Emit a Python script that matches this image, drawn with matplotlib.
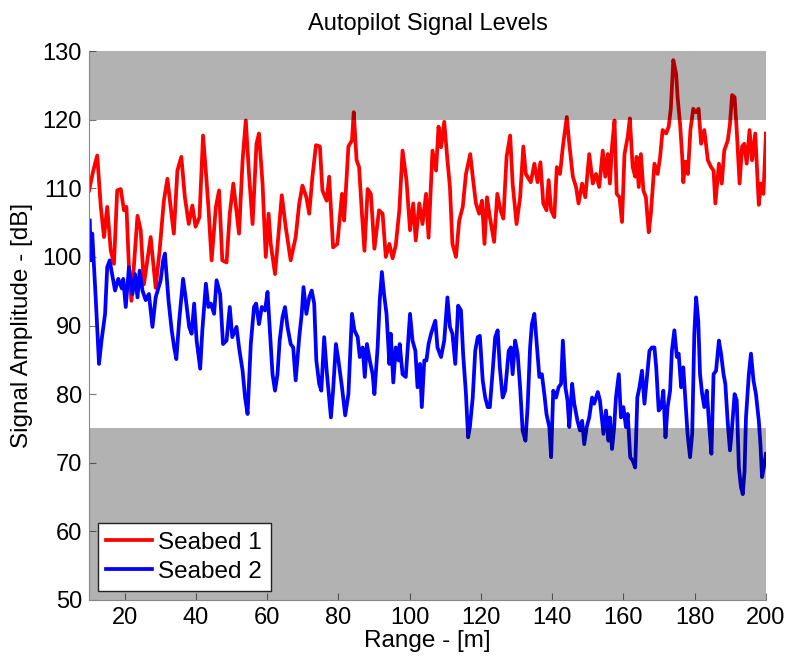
import numpy as np
import matplotlib.pyplot as plt

plt.rcParams['font.family'] = ['Liberation Sans', 'DejaVu Sans']

# Seabed 1 (red) - range [m] and amplitude [dB]
range_1 = [10.0, 10.5, 11.2, 12.3, 13.3, 14.2, 15.1, 16.1, 17.0, 17.9, 18.9, 19.8,
           20.5, 21.2, 21.9, 23.6, 24.5, 25.4, 27.3, 28.7, 29.8, 31.0, 32.0, 32.9,
           33.8, 34.8, 35.9, 36.9, 38.0, 39.0, 39.9, 41.0, 42.0, 42.9, 43.5, 44.4,
           45.6, 46.5, 47.4, 48.6, 49.5, 50.5, 52.1, 53.1, 54.0, 54.9, 55.9, 57.0,
           57.7, 58.7, 59.6, 60.4, 61.0, 62.2, 63.2, 64.1, 65.2, 66.6, 68.0, 69.0,
           69.9, 71.0, 71.8, 72.7, 73.7, 74.8, 75.5, 76.7, 77.4, 78.5, 79.7, 81.0,
           81.6, 82.8, 83.8, 84.3, 85.1, 85.8, 86.6, 87.3, 88.2, 89.1, 90.1, 91.4,
           92.4, 93.3, 94.3, 95.2, 96.1, 97.1, 98.0, 99.1, 100.1, 101.0, 101.7, 102.7,
           103.6, 104.6, 105.3, 106.4, 107.4, 108.1, 108.8, 109.7, 110.6, 111.3, 112.0, 113.0,
           113.9, 114.9, 115.8, 117.0, 117.7, 118.6, 119.5, 120.3, 121.0, 121.7, 122.5, 123.7,
           124.6, 125.5, 126.3, 127.2, 128.2, 128.9, 130.0, 131.0, 131.9, 132.6, 134.0, 135.0,
           135.9, 136.7, 137.5, 138.4, 139.0, 139.7, 140.6, 141.3, 142.2, 143.0, 144.1, 144.8,
           145.8, 146.7, 147.4, 148.4, 149.3, 150.4, 151.4, 152.3, 153.2, 154.2, 154.9, 155.6,
           156.2, 156.8, 157.5, 158.1, 158.9, 159.6, 160.3, 161.2, 161.8, 162.6, 163.3, 163.7,
           164.3, 164.9, 165.6, 166.3, 167.1, 167.7, 168.7, 169.6, 170.3, 171.0, 172.0, 172.7,
           173.3, 174.0, 174.8, 175.2, 175.9, 176.5, 176.8, 177.4, 178.1, 178.8, 179.6, 180.4,
           181.1, 181.8, 182.7, 183.7, 184.6, 185.3, 185.8, 186.8, 187.6, 188.3, 189.3, 189.9,
           190.5, 191.2, 191.8, 192.6, 193.3, 193.9, 194.6, 195.4, 196.1, 197.0, 198.0, 198.6,
           199.3, 200.0]
level_1 = [109.7, 110.9, 112.6, 114.8, 107.3, 102.9, 107.3, 100.9, 99.0, 109.7, 109.9, 106.8,
           107.3, 98.5, 93.6, 106.0, 103.9, 96.0, 102.9, 95.5, 100.9, 108.2, 111.4, 107.3,
           103.4, 112.6, 114.6, 108.7, 104.8, 107.5, 104.4, 105.8, 117.7, 111.7, 107.3, 99.5,
           107.3, 109.7, 99.5, 99.2, 106.3, 110.7, 103.4, 114.1, 119.9, 112.1, 104.8, 116.5,
           118.0, 110.7, 100.0, 106.3, 101.9, 97.5, 103.4, 109.0, 104.4, 99.5, 102.9, 107.8,
           110.4, 108.7, 106.3, 111.7, 116.3, 116.1, 109.7, 108.2, 111.7, 101.4, 101.9, 109.2,
           105.3, 116.1, 117.0, 121.1, 114.1, 113.1, 106.3, 100.9, 109.9, 109.2, 101.2, 106.8,
           106.3, 100.0, 101.9, 99.8, 101.7, 106.8, 115.5, 111.2, 103.9, 107.8, 102.4, 107.8,
           104.8, 109.2, 102.8, 115.5, 112.6, 119.0, 116.0, 119.7, 114.1, 110.2, 101.9, 100.0,
           105.3, 107.3, 112.1, 115.0, 111.7, 107.8, 106.3, 108.2, 101.9, 108.7, 105.8, 102.2,
           109.2, 106.8, 105.6, 114.6, 117.7, 110.7, 104.8, 108.7, 116.1, 112.1, 110.9, 113.6,
           110.9, 113.8, 107.8, 106.8, 111.2, 106.8, 105.8, 113.1, 112.1, 116.1, 120.4, 116.5,
           111.7, 110.2, 107.8, 110.7, 108.7, 115.0, 110.7, 112.1, 110.2, 115.5, 111.7, 115.0,
           110.7, 116.1, 119.9, 109.2, 108.7, 105.1, 115.0, 117.5, 120.2, 113.1, 111.7, 114.6,
           110.2, 115.0, 109.7, 108.7, 103.6, 106.3, 113.6, 112.1, 114.6, 118.5, 118.0, 119.0,
           121.6, 128.7, 126.7, 123.3, 119.4, 114.6, 110.9, 113.9, 112.1, 118.5, 121.6, 121.1,
           121.6, 116.5, 118.5, 114.1, 113.1, 112.6, 107.8, 113.6, 110.7, 115.5, 117.0, 119.4,
           123.6, 123.3, 118.5, 110.7, 116.1, 116.5, 113.6, 118.5, 114.1, 118.0, 107.6, 110.7,
           109.2, 118.0]

# Seabed 2 (blue)
range_2 = [10.2, 10.5, 10.9, 11.9, 12.8, 13.5, 14.5, 15.1, 15.8, 16.3, 17.3, 18.2,
           19.2, 19.6, 20.3, 21.2, 22.2, 22.9, 23.6, 24.2, 25.0, 25.9, 26.8, 27.8,
           28.7, 30.1, 30.8, 31.3, 32.3, 33.2, 33.9, 34.5, 35.3, 36.4, 37.1, 38.1,
           38.8, 39.5, 40.2, 41.2, 41.8, 42.8, 43.5, 44.2, 45.1, 45.8, 46.8, 47.6,
           48.6, 49.5, 50.2, 51.4, 52.1, 53.1, 53.8, 54.5, 55.4, 56.3, 56.9, 57.7,
           58.5, 59.4, 60.1, 60.7, 61.5, 62.2, 62.9, 63.5, 64.3, 65.0, 65.7, 66.6,
           67.3, 68.0, 69.0, 69.7, 70.2, 71.0, 71.8, 72.5, 73.2, 73.8, 74.6, 75.2,
           76.0, 76.7, 77.2, 77.9, 78.5, 79.3, 80.0, 81.0, 81.9, 82.8, 83.8, 84.5,
           85.4, 86.0, 86.8, 87.4, 88.0, 88.8, 89.6, 90.1, 91.0, 91.6, 92.2, 92.8,
           93.5, 94.3, 94.7, 95.4, 96.1, 96.9, 97.2, 98.0, 98.9, 100.1, 100.8, 101.6,
           102.2, 102.9, 103.4, 104.1, 104.7, 105.3, 106.0, 106.6, 107.2, 107.8, 108.8, 109.7,
           110.6, 111.3, 112.0, 112.8, 113.6, 114.4, 115.0, 115.8, 116.4, 116.9, 117.7, 118.4,
           119.1, 119.7, 120.5, 121.2, 121.9, 122.5, 123.3, 124.0, 124.7, 125.3, 126.1, 126.8,
           127.8, 128.4, 128.9, 129.6, 130.3, 131.0, 131.7, 132.5, 133.1, 133.8, 134.3, 135.0,
           135.6, 136.4, 137.1, 137.8, 138.4, 139.2, 139.7, 140.3, 141.1, 141.8, 142.5, 143.0,
           143.7, 144.3, 144.8, 145.6, 146.2, 147.1, 147.8, 148.4, 149.0, 149.7, 150.4, 151.2,
           151.8, 152.8, 153.4, 154.4, 155.1, 155.8, 156.2, 156.8, 157.4, 157.9, 158.7, 159.3,
           160.0, 160.7, 161.2, 161.9, 162.6, 163.3, 163.9, 164.5, 165.2, 165.9, 166.5, 167.3,
           168.0, 168.7, 169.2, 169.9, 170.6, 171.2, 171.8, 172.4, 173.1, 173.6, 174.3, 175.0,
           175.5, 176.2, 176.8, 177.4, 178.0, 178.7, 179.3, 179.9, 180.4, 181.0, 181.5, 182.1,
           182.7, 183.4, 184.1, 184.7, 185.3, 186.0, 186.8, 187.4, 188.1, 188.6, 189.3, 189.9,
           190.5, 191.2, 191.8, 192.4, 193.0, 193.5, 194.0, 194.4, 195.2, 195.8, 196.5, 197.2,
           198.0, 198.5, 198.9, 199.4, 200.0]
level_2 = [105.3, 99.5, 103.4, 93.7, 84.4, 87.8, 91.7, 98.5, 99.5, 98.0, 95.1, 96.8,
           95.4, 96.8, 92.7, 98.5, 94.6, 97.5, 94.1, 98.0, 95.1, 93.7, 94.6, 89.8,
           94.1, 96.6, 99.5, 100.5, 93.7, 89.3, 86.8, 85.1, 90.7, 96.8, 94.1, 89.8,
           88.8, 93.2, 87.8, 83.7, 89.3, 96.1, 92.7, 93.2, 91.7, 96.6, 94.6, 87.3,
           87.8, 92.7, 88.3, 89.8, 86.8, 83.4, 79.5, 77.1, 87.3, 92.7, 93.2, 90.2,
           92.7, 92.2, 94.9, 89.8, 82.9, 80.5, 82.9, 87.8, 91.2, 92.7, 89.8, 87.3,
           86.8, 82.0, 88.3, 91.7, 95.6, 91.7, 94.1, 95.1, 93.2, 84.9, 81.5, 80.5,
           88.3, 83.4, 80.5, 76.6, 80.5, 87.3, 84.9, 81.0, 76.9, 80.0, 91.7, 89.3,
           88.3, 85.4, 86.8, 82.5, 87.3, 84.9, 82.9, 80.0, 86.8, 93.7, 97.8, 94.6,
           91.7, 84.4, 88.8, 81.7, 86.8, 84.9, 87.3, 82.9, 82.5, 91.7, 87.8, 86.3,
           81.0, 84.4, 78.1, 84.9, 84.9, 87.3, 88.8, 89.8, 90.7, 86.8, 85.4, 87.8,
           94.1, 89.8, 88.8, 84.4, 92.9, 92.2, 85.9, 80.0, 73.7, 75.2, 79.5, 86.3,
           88.3, 88.5, 82.0, 79.5, 78.1, 78.1, 83.4, 88.3, 89.3, 83.9, 79.5, 80.5,
           86.3, 86.8, 82.9, 87.8, 85.9, 81.0, 74.7, 73.2, 78.1, 86.8, 90.2, 91.7,
           87.8, 82.5, 82.9, 80.0, 77.1, 75.2, 70.8, 80.5, 79.5, 81.0, 81.5, 87.8,
           81.0, 79.1, 75.2, 81.5, 78.6, 76.1, 74.7, 76.1, 72.7, 75.2, 76.6, 79.5,
           78.6, 80.3, 79.1, 74.2, 77.6, 73.2, 76.6, 72.0, 75.2, 79.5, 82.9, 76.6,
           78.1, 75.2, 77.1, 70.8, 70.3, 69.3, 79.5, 81.0, 83.4, 78.6, 81.9, 86.3,
           86.8, 86.8, 83.9, 77.6, 78.1, 80.5, 73.7, 78.1, 80.5, 86.3, 89.3, 85.4,
           85.9, 81.0, 83.9, 79.1, 74.2, 70.8, 74.2, 88.8, 94.1, 90.7, 82.9, 80.0,
           78.1, 80.5, 75.2, 71.3, 82.9, 83.4, 87.8, 85.9, 82.9, 81.5, 75.7, 71.8,
           75.2, 80.0, 79.1, 69.3, 66.4, 65.4, 68.8, 76.6, 82.9, 85.9, 82.0, 80.0,
           76.1, 72.3, 67.9, 69.3, 71.3]

upper_band = (120, 130)
lower_band = (50, 75)
x_ticks = [20, 40, 60, 80, 100, 120, 140, 160, 180, 200]
y_ticks = [50, 60, 70, 80, 90, 100, 110, 120, 130]


fig = plt.figure(figsize=(7.88, 6.65), dpi=100)
ax = fig.add_axes([0.113, 0.098, 0.859, 0.825])

ax.plot(range_1, level_1, color="#ff0000", linewidth=2.7, label="Seabed 1", zorder=2)
ax.plot(range_2, level_2, color="#0000ff", linewidth=2.7, label="Seabed 2", zorder=2)

# shaded limits sit on top of the traces
ax.axhspan(*upper_band, color="black", alpha=0.3, linewidth=0, zorder=3)
ax.axhspan(*lower_band, color="black", alpha=0.3, linewidth=0, zorder=3)

ax.set_xlim(10, 200)
ax.set_ylim(50, 130)
ax.set_xticks(x_ticks)
ax.set_yticks(y_ticks)
ax.tick_params(direction="in", length=5, labelsize=17, color="#777777", pad=5)
ax.spines["top"].set_visible(False)
ax.spines["right"].set_visible(False)
for side in ("left", "bottom"):
    ax.spines[side].set_color("#888888")
    ax.spines[side].set_zorder(4)

ax.set_xlabel("Range - [m]", fontsize=17.5, labelpad=1)
ax.set_ylabel("Signal Amplitude - [dB]", fontsize=17.5, labelpad=7)
ax.set_title("Autopilot Signal Levels", fontsize=17, pad=15)

leg = ax.legend(loc="lower left", fontsize=17.5, fancybox=False, framealpha=1,
                edgecolor="#222222", handlelength=1.9, handletextpad=0.25,
                borderpad=0.35, labelspacing=0.3, borderaxespad=0.35)
leg.set_zorder(5)
leg.get_frame().set_linewidth(1.0)

fig.savefig("out.png", dpi=100)
